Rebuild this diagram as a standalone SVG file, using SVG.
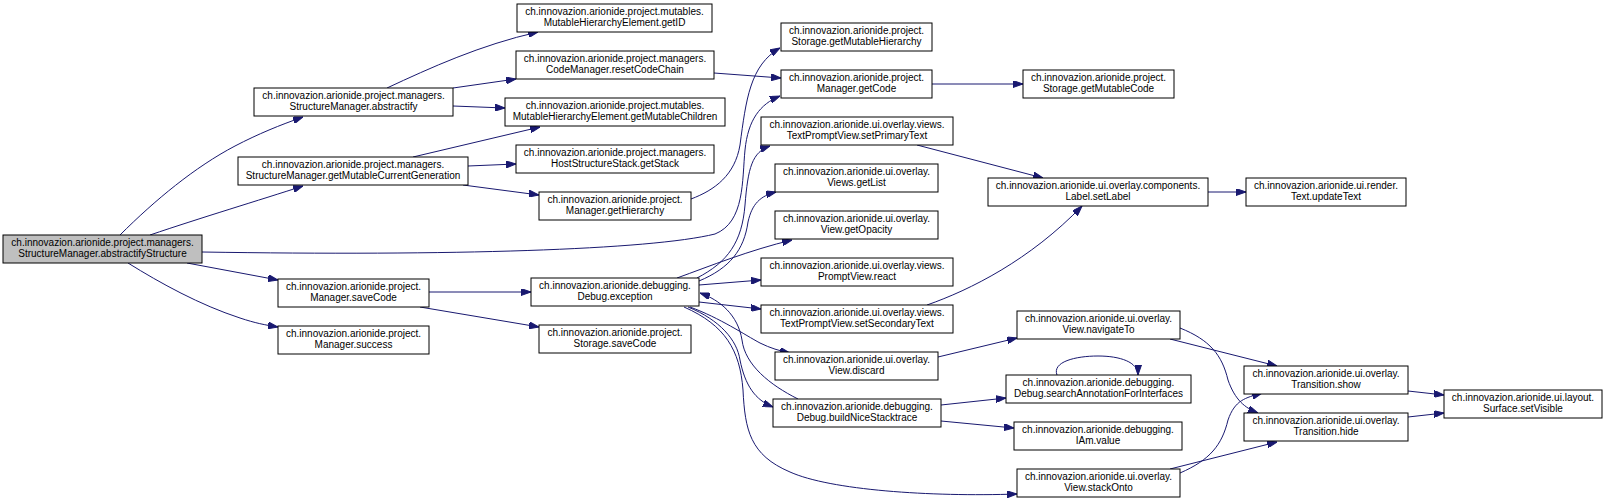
<svg xmlns="http://www.w3.org/2000/svg" width="1606" height="502" viewBox="0 0 1606 502">
<style>
.n rect{fill:#fff;stroke:#000;stroke-width:1}
.n.root rect{fill:#bfbfbf}
.n text{font-family:"Liberation Sans",Arial,sans-serif;font-size:10px;fill:#000;text-anchor:middle}
.e path{fill:none;stroke:#191970;stroke-width:1;marker-end:url(#ah)}
</style>
<defs>
<marker id="ah" viewBox="0 0 10 7" refX="10" refY="3.5" markerWidth="10" markerHeight="7" markerUnits="userSpaceOnUse" orient="auto">
<path d="M0,0 L10,3.5 L0,7 z" fill="#191970" stroke="#191970"/>
</marker>
</defs>
<rect width="1606" height="502" fill="#fff"/>
<g id="edges" class="e">
<path d="M120,235 C155,200 195,167 235,146 C258,134 280,125 303,117"/>
<path d="M150,235 C200,218 260,200 303,186"/>
<path d="M202,252 C450,256 650,250 715,234 C745,222 742,180 745,150 C748,120 760,104 780,96"/>
<path d="M187,263 L278,280"/>
<path d="M128,263 C160,283 200,305 240,318 C255,323 265,325 278,327"/>
<path d="M387,88 C430,68 480,45 538,32"/>
<path d="M453,88 L516,79"/>
<path d="M453,106 L505,108"/>
<path d="M413,157 L540,127"/>
<path d="M468,166 L516,164"/>
<path d="M463,185 L539,195"/>
<path d="M714,73 L781,78"/>
<path d="M691,199 C715,190 735,175 740,145 C746,100 750,65 780,48"/>
<path d="M932,84 L1023,84"/>
<path d="M429,292 L531,292"/>
<path d="M420,307 L539,327"/>
<path d="M697,278 C728,262 742,242 745,205 C748,168 752,152 770,146"/>
<path d="M699,281 C730,268 744,250 748,222 C752,204 760,196 776,192"/>
<path d="M677,278 C710,266 750,250 792,240"/>
<path d="M699,285 L761,280"/>
<path d="M699,302 L761,309"/>
<path d="M690,307 C720,318 745,335 760,343 C770,348 780,351 790,353"/>
<path d="M688,307 C720,320 737,340 740,360 C745,385 755,400 773,407"/>
<path d="M798,399 C770,385 745,365 742,340 C738,315 720,300 700,293"/>
<path d="M684,307 C725,325 740,350 743,390 C745,430 750,455 790,472 C830,490 930,497 1017,494"/>
<path d="M938,357 L1017,338"/>
<path d="M941,405 L1006,398"/>
<path d="M941,421 L1014,428"/>
<path d="M1057,375 C1052,362 1075,356 1098,356 C1120,356 1138,362 1138,375"/>
<path d="M917,145 L1043,178"/>
<path d="M927,305 C970,290 1030,260 1082,206"/>
<path d="M1208,192 L1246,192"/>
<path d="M1170,339 L1277,366"/>
<path d="M1180,328 C1210,340 1222,355 1228,380 C1235,400 1245,408 1258,413"/>
<path d="M1180,473 C1210,460 1222,445 1228,420 C1235,400 1245,398 1262,393"/>
<path d="M1170,469 L1277,442"/>
<path d="M1408,391 L1444,395"/>
<path d="M1408,417 L1444,413"/>
</g>
<g id="n0" class="n root"><rect x="3" y="235" width="199" height="28"/><text x="102.5" y="246">ch.innovazion.arionide.project.managers.</text><text x="102.5" y="257">StructureManager.abstractifyStructure</text></g>
<g id="n1" class="n"><rect x="254" y="88" width="199" height="28"/><text x="353.5" y="99">ch.innovazion.arionide.project.managers.</text><text x="353.5" y="110">StructureManager.abstractify</text></g>
<g id="n2" class="n"><rect x="238" y="157" width="230" height="28"/><text x="353" y="168">ch.innovazion.arionide.project.managers.</text><text x="353" y="179">StructureManager.getMutableCurrentGeneration</text></g>
<g id="n3" class="n"><rect x="278" y="279" width="151" height="28"/><text x="353.5" y="290">ch.innovazion.arionide.project.</text><text x="353.5" y="301">Manager.saveCode</text></g>
<g id="n4" class="n"><rect x="278" y="326" width="151" height="28"/><text x="353.5" y="337">ch.innovazion.arionide.project.</text><text x="353.5" y="348">Manager.success</text></g>
<g id="n5" class="n"><rect x="517" y="4" width="195" height="28"/><text x="614.5" y="15">ch.innovazion.arionide.project.mutables.</text><text x="614.5" y="26">MutableHierarchyElement.getID</text></g>
<g id="n6" class="n"><rect x="516" y="51" width="198" height="28"/><text x="615" y="62">ch.innovazion.arionide.project.managers.</text><text x="615" y="73">CodeManager.resetCodeChain</text></g>
<g id="n7" class="n"><rect x="505" y="98" width="220" height="28"/><text x="615" y="109">ch.innovazion.arionide.project.mutables.</text><text x="615" y="120">MutableHierarchyElement.getMutableChildren</text></g>
<g id="n8" class="n"><rect x="516" y="145" width="198" height="28"/><text x="615" y="156">ch.innovazion.arionide.project.managers.</text><text x="615" y="167">HostStructureStack.getStack</text></g>
<g id="n9" class="n"><rect x="539" y="192" width="152" height="28"/><text x="615" y="203">ch.innovazion.arionide.project.</text><text x="615" y="214">Manager.getHierarchy</text></g>
<g id="n10" class="n"><rect x="531" y="278" width="168" height="28"/><text x="615" y="289">ch.innovazion.arionide.debugging.</text><text x="615" y="300">Debug.exception</text></g>
<g id="n11" class="n"><rect x="539" y="325" width="152" height="28"/><text x="615" y="336">ch.innovazion.arionide.project.</text><text x="615" y="347">Storage.saveCode</text></g>
<g id="n12" class="n"><rect x="781" y="23" width="151" height="28"/><text x="856.5" y="34">ch.innovazion.arionide.project.</text><text x="856.5" y="45">Storage.getMutableHierarchy</text></g>
<g id="n13" class="n"><rect x="781" y="70" width="151" height="28"/><text x="856.5" y="81">ch.innovazion.arionide.project.</text><text x="856.5" y="92">Manager.getCode</text></g>
<g id="n14" class="n"><rect x="761" y="117" width="192" height="28"/><text x="857" y="128">ch.innovazion.arionide.ui.overlay.views.</text><text x="857" y="139">TextPromptView.setPrimaryText</text></g>
<g id="n15" class="n"><rect x="775" y="164" width="163" height="28"/><text x="856.5" y="175">ch.innovazion.arionide.ui.overlay.</text><text x="856.5" y="186">Views.getList</text></g>
<g id="n16" class="n"><rect x="775" y="211" width="163" height="28"/><text x="856.5" y="222">ch.innovazion.arionide.ui.overlay.</text><text x="856.5" y="233">View.getOpacity</text></g>
<g id="n17" class="n"><rect x="761" y="258" width="192" height="28"/><text x="857" y="269">ch.innovazion.arionide.ui.overlay.views.</text><text x="857" y="280">PromptView.react</text></g>
<g id="n18" class="n"><rect x="761" y="305" width="192" height="28"/><text x="857" y="316">ch.innovazion.arionide.ui.overlay.views.</text><text x="857" y="327">TextPromptView.setSecondaryText</text></g>
<g id="n19" class="n"><rect x="775" y="352" width="163" height="28"/><text x="856.5" y="363">ch.innovazion.arionide.ui.overlay.</text><text x="856.5" y="374">View.discard</text></g>
<g id="n20" class="n"><rect x="773" y="399" width="168" height="28"/><text x="857" y="410">ch.innovazion.arionide.debugging.</text><text x="857" y="421">Debug.buildNiceStacktrace</text></g>
<g id="n21" class="n"><rect x="1023" y="70" width="151" height="28"/><text x="1098.5" y="81">ch.innovazion.arionide.project.</text><text x="1098.5" y="92">Storage.getMutableCode</text></g>
<g id="n22" class="n"><rect x="988" y="178" width="220" height="28"/><text x="1098" y="189">ch.innovazion.arionide.ui.overlay.components.</text><text x="1098" y="200">Label.setLabel</text></g>
<g id="n23" class="n"><rect x="1246" y="178" width="160" height="28"/><text x="1326" y="189">ch.innovazion.arionide.ui.render.</text><text x="1326" y="200">Text.updateText</text></g>
<g id="n24" class="n"><rect x="1017" y="311" width="163" height="28"/><text x="1098.5" y="322">ch.innovazion.arionide.ui.overlay.</text><text x="1098.5" y="333">View.navigateTo</text></g>
<g id="n25" class="n"><rect x="1006" y="375" width="185" height="28"/><text x="1098.5" y="386">ch.innovazion.arionide.debugging.</text><text x="1098.5" y="397">Debug.searchAnnotationForInterfaces</text></g>
<g id="n26" class="n"><rect x="1014" y="422" width="168" height="28"/><text x="1098" y="433">ch.innovazion.arionide.debugging.</text><text x="1098" y="444">IAm.value</text></g>
<g id="n27" class="n"><rect x="1017" y="469" width="163" height="28"/><text x="1098.5" y="480">ch.innovazion.arionide.ui.overlay.</text><text x="1098.5" y="491">View.stackOnto</text></g>
<g id="n28" class="n"><rect x="1244" y="366" width="164" height="28"/><text x="1326" y="377">ch.innovazion.arionide.ui.overlay.</text><text x="1326" y="388">Transition.show</text></g>
<g id="n29" class="n"><rect x="1244" y="413" width="164" height="28"/><text x="1326" y="424">ch.innovazion.arionide.ui.overlay.</text><text x="1326" y="435">Transition.hide</text></g>
<g id="n30" class="n"><rect x="1444" y="390" width="158" height="28"/><text x="1523" y="401">ch.innovazion.arionide.ui.layout.</text><text x="1523" y="412">Surface.setVisible</text></g>
</svg>
